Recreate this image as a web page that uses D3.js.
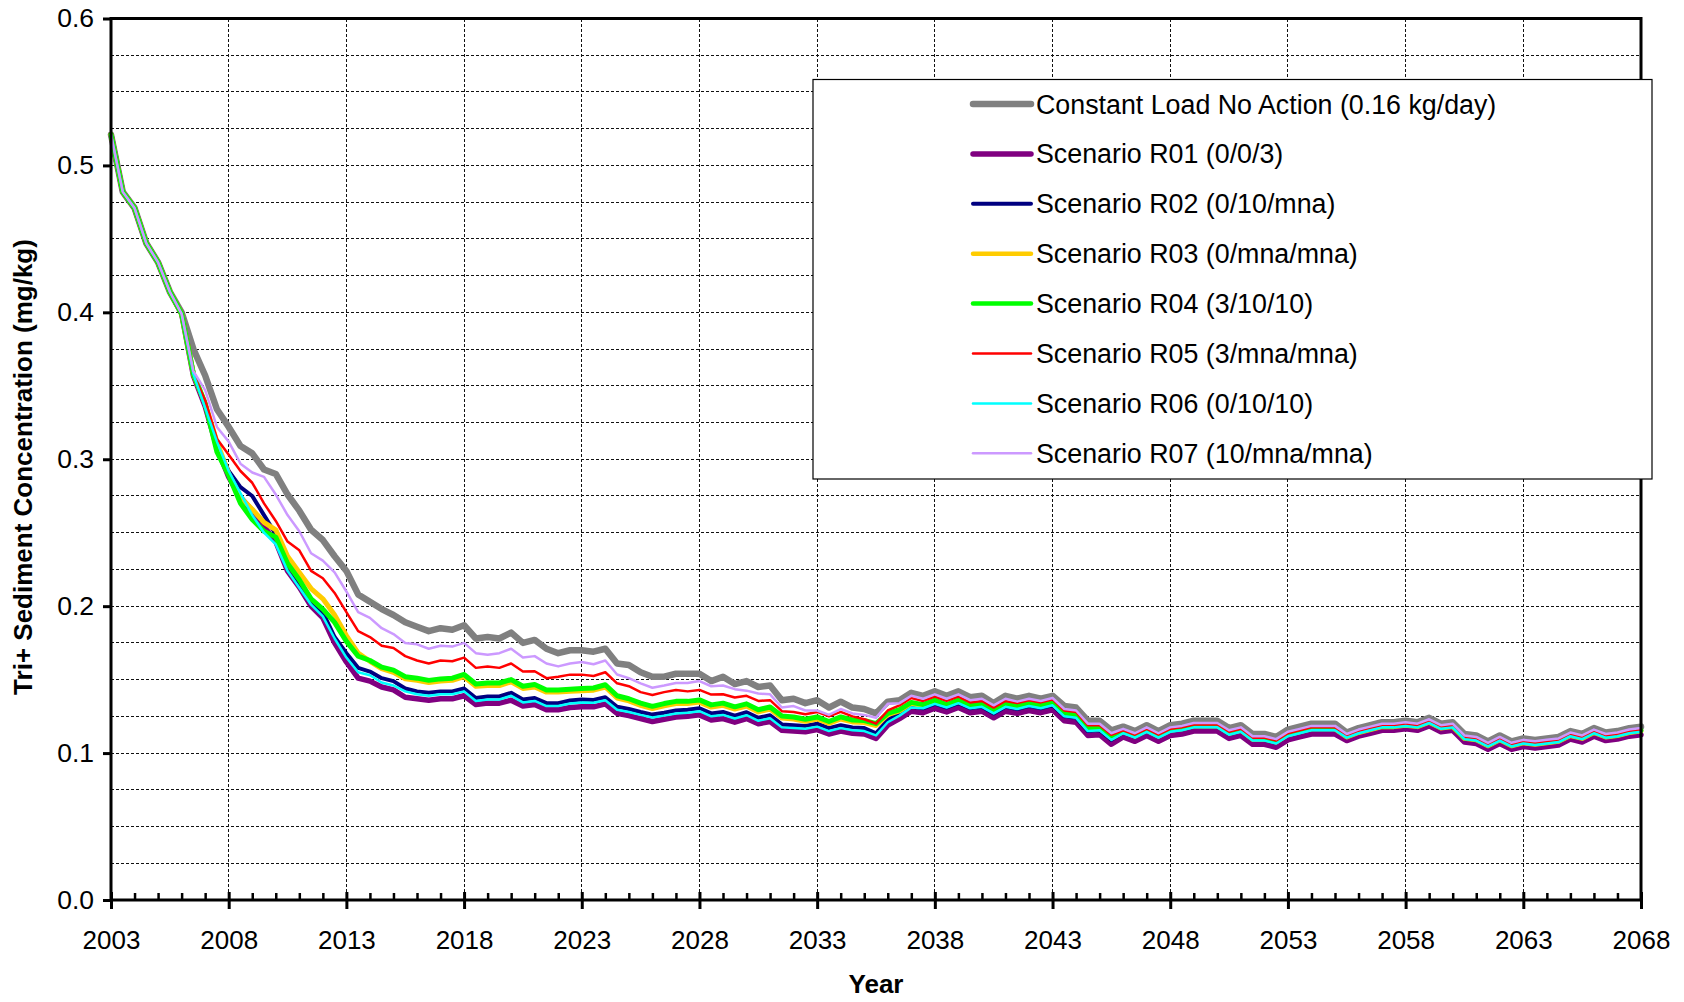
<!DOCTYPE html>
<html>
<head>
<meta charset="utf-8">
<script src="https://cdn.jsdelivr.net/npm/d3@7"></script>
<style>
  html, body { margin: 0; padding: 0; background: #fff; }
  svg { display: block; font-family: "Liberation Sans", Arial, sans-serif; }
</style>
</head>
<body>
<svg id="chart" width="1684" height="1002"></svg>
<script>
// Half-year sampling grid, 2003.0 to 2068.0
const years = d3.range(0, 131).map(i => 2003 + i * 0.5);

// Tri+ sediment concentration (mg/kg), one value per half year
const constantLoad = [
  0.521,0.482,0.471,0.447,0.434,0.414,0.400,0.375,0.357,0.334,
  0.322,0.309,0.304,0.293,0.290,0.276,0.265,0.252,0.245,0.234,
  0.224,0.208,0.203,0.198,0.194,0.189,0.186,0.183,0.185,0.184,
  0.187,0.178,0.179,0.178,0.182,0.175,0.177,0.171,0.168,0.170,
  0.170,0.169,0.171,0.161,0.160,0.155,0.152,0.152,0.154,0.154,
  0.154,0.149,0.152,0.147,0.149,0.145,0.146,0.136,0.137,0.134,
  0.136,0.131,0.135,0.131,0.130,0.127,0.135,0.136,0.141,0.139,
  0.142,0.139,0.142,0.138,0.139,0.134,0.139,0.137,0.139,0.137,
  0.139,0.132,0.131,0.122,0.122,0.1155,0.118,0.115,0.119,0.115,
  0.119,0.120,0.122,0.122,0.122,0.117,0.119,0.113,0.113,0.111,
  0.116,0.118,0.120,0.120,0.120,0.114,0.117,0.119,0.121,0.121,
  0.122,0.121,0.124,0.120,0.121,0.113,0.112,0.108,0.112,0.108,
  0.110,0.109,0.110,0.111,0.115,0.113,0.117,0.114,0.115,0.117,
  0.118
];
const scenarioR01 = [
  0.521,0.482,0.471,0.447,0.434,0.414,0.399,0.357,0.336,0.308,
  0.288,0.274,0.265,0.254,0.244,0.224,0.213,0.200,0.192,0.175,
  0.162,0.151,0.149,0.145,0.143,0.138,0.137,0.136,0.137,0.137,
  0.139,0.133,0.134,0.134,0.136,0.132,0.133,0.1295,0.1295,0.131,
  0.1315,0.1315,0.1335,0.127,0.1255,0.1235,0.1215,0.123,0.1245,0.125,
  0.126,0.1225,0.1235,0.121,0.1235,0.120,0.1215,0.1155,0.115,0.1145,
  0.116,0.113,0.115,0.1135,0.113,0.110,0.119,0.1235,0.1285,0.1275,
  0.1305,0.128,0.131,0.1275,0.1285,0.124,0.1285,0.127,0.129,0.1275,
  0.1295,0.122,0.121,0.112,0.1125,0.106,0.111,0.108,0.112,0.108,
  0.112,0.113,0.115,0.115,0.115,0.110,0.112,0.106,0.106,0.104,
  0.109,0.111,0.113,0.113,0.113,0.1085,0.1115,0.1135,0.1155,0.1155,
  0.1165,0.1155,0.1185,0.1145,0.1155,0.1075,0.1065,0.1025,0.1065,0.1025,
  0.1045,0.1035,0.1045,0.1055,0.1095,0.1075,0.1115,0.1085,0.1095,0.1115,
  0.1125
];
const scenarioR02 = [
  0.521,0.482,0.471,0.447,0.434,0.414,0.399,0.358,0.338,0.310,
  0.292,0.281,0.275,0.262,0.249,0.229,0.216,0.204,0.196,0.179,
  0.168,0.158,0.1555,0.151,0.149,0.144,0.142,0.141,0.142,0.142,
  0.144,0.1375,0.1385,0.1385,0.141,0.1365,0.1375,0.134,0.134,0.1358,
  0.1364,0.1362,0.138,0.1315,0.130,0.128,0.1262,0.1275,0.129,0.1295,
  0.1305,0.127,0.128,0.1255,0.1278,0.124,0.1257,0.1195,0.119,0.1185,
  0.120,0.117,0.119,0.1175,0.117,0.1135,0.1225,0.127,0.1315,0.1305,
  0.1335,0.131,0.134,0.1305,0.1315,0.127,0.1315,0.130,0.132,0.1305,
  0.1325,0.125,0.124,0.115,0.1155,0.109,0.114,0.111,0.115,0.111,
  0.115,0.116,0.118,0.118,0.118,0.113,0.115,0.109,0.109,0.107,
  0.112,0.114,0.116,0.116,0.116,0.111,0.114,0.116,0.118,0.118,
  0.119,0.118,0.121,0.117,0.118,0.110,0.109,0.105,0.109,0.105,
  0.107,0.106,0.107,0.108,0.112,0.110,0.114,0.111,0.112,0.114,
  0.115
];
const scenarioR03 = [
  0.521,0.482,0.471,0.447,0.434,0.414,0.399,0.358,0.338,0.312,
  0.290,0.274,0.266,0.257,0.252,0.234,0.223,0.212,0.205,0.194,
  0.180,0.168,0.1625,0.1575,0.155,0.1505,0.1495,0.148,0.149,0.1495,
  0.152,0.1455,0.146,0.146,0.1485,0.144,0.145,0.1415,0.1415,0.142,
  0.1425,0.1428,0.145,0.1375,0.1355,0.1325,0.1303,0.1322,0.1337,0.1337,
  0.1347,0.1313,0.1325,0.130,0.132,0.128,0.130,0.1238,0.1232,0.1216,
  0.1232,0.1202,0.1232,0.1212,0.1208,0.1188,0.1262,0.1288,0.1338,0.1322,
  0.1352,0.1322,0.1352,0.1318,0.1328,0.1283,0.1328,0.1313,0.1333,0.1318,
  0.1338,0.1263,0.1253,0.1163,0.1168,0.1103,0.1145,0.1115,0.1155,0.1115,
  0.1155,0.1165,0.1185,0.1185,0.1185,0.1135,0.1155,0.1095,0.1095,0.1075,
  0.1125,0.1145,0.1165,0.1165,0.1165,0.111,0.114,0.116,0.118,0.118,
  0.119,0.118,0.121,0.117,0.118,0.110,0.109,0.105,0.109,0.105,
  0.107,0.106,0.107,0.108,0.112,0.110,0.114,0.111,0.112,0.114,
  0.115
];
const scenarioR04 = [
  0.521,0.482,0.471,0.447,0.434,0.414,0.399,0.358,0.338,0.305,
  0.289,0.270,0.259,0.251,0.247,0.229,0.218,0.205,0.198,0.189,
  0.176,0.166,0.163,0.1585,0.1565,0.152,0.151,0.1495,0.1505,0.151,
  0.1535,0.147,0.1477,0.1477,0.150,0.1455,0.1467,0.143,0.143,0.1435,
  0.144,0.1443,0.1465,0.139,0.137,0.134,0.1318,0.1337,0.1352,0.1352,
  0.1362,0.1328,0.134,0.1315,0.1335,0.1295,0.1314,0.1252,0.1246,0.123,
  0.1246,0.1215,0.1246,0.1225,0.1222,0.120,0.127,0.1295,0.1345,0.133,
  0.136,0.133,0.136,0.1325,0.1335,0.129,0.1335,0.132,0.134,0.1325,
  0.1345,0.127,0.126,0.117,0.1175,0.111,0.115,0.112,0.116,0.112,
  0.116,0.117,0.119,0.119,0.119,0.114,0.116,0.110,0.110,0.108,
  0.113,0.115,0.117,0.117,0.117,0.1115,0.1145,0.1165,0.1185,0.1185,
  0.1195,0.1185,0.1215,0.1175,0.1185,0.1105,0.1095,0.1055,0.1095,0.1055,
  0.1075,0.1065,0.1075,0.1085,0.1125,0.1105,0.1145,0.1115,0.1125,0.1145,
  0.1155
];
const scenarioR05 = [
  0.521,0.482,0.471,0.447,0.434,0.414,0.399,0.358,0.340,0.314,
  0.303,0.292,0.284,0.270,0.258,0.244,0.238,0.224,0.219,0.209,
  0.196,0.183,0.179,0.173,0.1715,0.166,0.163,0.161,0.163,0.1625,
  0.165,0.158,0.159,0.158,0.161,0.1555,0.1557,0.151,0.152,0.1534,
  0.1534,0.1525,0.155,0.1475,0.1455,0.1415,0.1395,0.1415,0.143,0.142,
  0.143,0.1398,0.140,0.1378,0.139,0.1355,0.136,0.1285,0.128,0.1265,
  0.128,0.125,0.128,0.125,0.123,0.120,0.129,0.1325,0.1375,0.1355,
  0.1385,0.1355,0.1385,0.1345,0.1355,0.131,0.1355,0.134,0.136,0.1345,
  0.1365,0.129,0.128,0.119,0.119,0.1125,0.1155,0.1125,0.1165,0.1125,
  0.1165,0.1175,0.1195,0.1195,0.1195,0.1145,0.1165,0.1105,0.1105,0.1085,
  0.1135,0.1155,0.1175,0.1175,0.1175,0.112,0.115,0.117,0.119,0.119,
  0.120,0.119,0.122,0.118,0.119,0.111,0.110,0.106,0.110,0.106,
  0.108,0.107,0.108,0.109,0.113,0.111,0.115,0.112,0.113,0.115,
  0.116
];
const scenarioR06 = [
  0.521,0.482,0.471,0.447,0.434,0.414,0.399,0.358,0.335,0.312,
  0.292,0.277,0.262,0.250,0.242,0.224,0.2125,0.201,0.193,0.178,
  0.165,0.155,0.153,0.148,0.146,0.142,0.140,0.139,0.140,0.140,
  0.142,0.1355,0.1365,0.1365,0.139,0.1345,0.1355,0.132,0.132,0.1338,
  0.1344,0.1342,0.136,0.1295,0.128,0.126,0.1242,0.1255,0.127,0.1275,
  0.1285,0.125,0.126,0.1235,0.1258,0.122,0.1237,0.1175,0.117,0.1165,
  0.118,0.115,0.117,0.1155,0.115,0.112,0.121,0.1255,0.131,0.1305,
  0.1335,0.131,0.134,0.1305,0.1315,0.127,0.1315,0.130,0.132,0.1305,
  0.1325,0.125,0.124,0.115,0.1155,0.109,0.1135,0.1105,0.1145,0.1105,
  0.1145,0.1155,0.1175,0.1175,0.1175,0.1125,0.1145,0.1085,0.1085,0.1065,
  0.1115,0.1135,0.1155,0.1155,0.1155,0.1105,0.1135,0.1155,0.1175,0.1175,
  0.1185,0.1175,0.1205,0.1165,0.1175,0.1095,0.1085,0.1045,0.1085,0.1045,
  0.1065,0.1055,0.1065,0.1075,0.1115,0.1095,0.1135,0.1105,0.1115,0.1135,
  0.1145
];
const scenarioR07 = [
  0.521,0.482,0.471,0.447,0.434,0.414,0.399,0.360,0.347,0.322,
  0.312,0.297,0.291,0.288,0.276,0.262,0.251,0.236,0.231,0.223,
  0.210,0.196,0.192,0.185,0.181,0.175,0.174,0.171,0.173,0.1725,
  0.175,0.168,0.167,0.168,0.171,0.165,0.166,0.161,0.159,0.161,
  0.162,0.1605,0.163,0.1535,0.151,0.1475,0.1445,0.146,0.1477,0.1477,
  0.149,0.1455,0.146,0.1435,0.1425,0.1405,0.140,0.131,0.132,0.129,
  0.129,0.126,0.130,0.127,0.126,0.124,0.1335,0.134,0.139,0.137,
  0.140,0.137,0.140,0.136,0.137,0.1325,0.137,0.135,0.137,0.1355,
  0.1375,0.130,0.129,0.120,0.120,0.1135,0.1165,0.1135,0.1175,0.1135,
  0.1175,0.1185,0.1205,0.1205,0.1205,0.1155,0.1175,0.1115,0.1115,0.1095,
  0.1145,0.1165,0.1185,0.1185,0.1185,0.113,0.116,0.118,0.120,0.120,
  0.121,0.120,0.123,0.119,0.120,0.112,0.111,0.107,0.111,0.107,
  0.109,0.108,0.109,0.110,0.114,0.112,0.116,0.113,0.114,0.116,
  0.117
];

// Series in drawing order (later ones on top)
const seriesNames = [
  "Constant Load No Action (0.16 kg/day)",
  "Scenario R01 (0/0/3)",
  "Scenario R02 (0/10/mna)",
  "Scenario R03 (0/mna/mna)",
  "Scenario R04 (3/10/10)",
  "Scenario R05 (3/mna/mna)",
  "Scenario R06 (0/10/10)",
  "Scenario R07 (10/mna/mna)"
];
const seriesValues = [constantLoad, scenarioR01, scenarioR02, scenarioR03,
                      scenarioR04, scenarioR05, scenarioR06, scenarioR07];
const seriesColors = ["#808080", "#800080", "#000080", "#FFCC00",
                      "#00FF00", "#FF0000", "#00FFFF", "#CC99FF"];
const seriesWidths = [6.5, 5.5, 4, 5, 5, 2.5, 2.5, 2.5];
const legendWidths = [6.5, 5.5, 4, 4.5, 4.5, 2.5, 2.5, 2.5];

const yTicks = [0, 0.1, 0.2, 0.3, 0.4, 0.5, 0.6];
const yGridLines = d3.range(1, 24).map(i => i * 0.025);
const xMajorTicks = d3.range(2003, 2069, 5);
const xMinorTicks = d3.range(2003, 2069, 1).filter(v => (v - 2003) % 5 !== 0);

const svg = d3.select("#chart");
const plotLeft = 111, plotRight = 1641, plotTop = 18.5, plotBottom = 900;

const x = d3.scaleLinear().domain([2003, 2068]).range([plotLeft, plotRight]);
const y = d3.scaleLinear().domain([0, 0.6]).range([plotBottom, plotTop]);

svg.append("rect").attr("width", 1684).attr("height", 1002).attr("fill", "#fff");

// dashed grid
const grid = svg.append("g").attr("stroke", "#111").attr("stroke-width", 1)
  .attr("stroke-dasharray", "3,2").attr("shape-rendering", "crispEdges");
grid.selectAll("line.h").data(yGridLines).join("line").attr("class", "h")
  .attr("x1", plotLeft).attr("x2", plotRight)
  .attr("y1", d => y(d)).attr("y2", d => y(d));
grid.selectAll("line.v").data(xMajorTicks.slice(1, -1)).join("line").attr("class", "v")
  .attr("x1", d => x(d)).attr("x2", d => x(d))
  .attr("y1", plotTop).attr("y2", plotBottom);

// series lines
const line = d3.line().x((d, i) => x(years[i])).y(d => y(d)).curve(d3.curveLinear);
svg.append("g").selectAll("path").data(seriesValues).join("path")
  .attr("d", d => line(d))
  .attr("fill", "none")
  .attr("stroke", (d, i) => seriesColors[i])
  .attr("stroke-width", (d, i) => seriesWidths[i])
  .attr("stroke-linejoin", "round")
  .attr("stroke-linecap", "round");

// plot frame
svg.append("rect").attr("x", plotLeft).attr("y", plotTop)
  .attr("width", plotRight - plotLeft).attr("height", plotBottom - plotTop)
  .attr("fill", "none").attr("stroke", "#000").attr("stroke-width", 3);

// y axis
const yAxis = svg.append("g").attr("transform", `translate(${plotLeft},0)`)
  .call(d3.axisLeft(y).tickValues(yTicks).tickFormat(d3.format(".1f"))
    .tickSize(8).tickPadding(9));
yAxis.select(".domain").remove();
yAxis.selectAll(".tick line").attr("stroke", "#000").attr("stroke-width", 3);
yAxis.selectAll(".tick text").attr("font-size", 26.5).attr("fill", "#000")
  .attr("font-family", "Liberation Sans, Arial, sans-serif");

// x axis: minor ticks inside, major ticks crossing the axis
const xMinor = svg.append("g").attr("transform", `translate(0,${plotBottom})`)
  .call(d3.axisBottom(x).tickValues(xMinorTicks).tickSize(-7).tickFormat(""));
xMinor.select(".domain").remove();
xMinor.selectAll(".tick line").attr("stroke", "#000").attr("stroke-width", 2.5);

const xAxis = svg.append("g").attr("transform", `translate(0,${plotBottom})`)
  .call(d3.axisBottom(x).tickValues(xMajorTicks).tickFormat(d3.format("d")));
xAxis.select(".domain").remove();
xAxis.selectAll(".tick line").attr("y1", -8).attr("y2", 9)
  .attr("stroke", "#000").attr("stroke-width", 3);
xAxis.selectAll(".tick text").attr("y", 48.5).attr("dy", 0)
  .attr("font-size", 26).attr("fill", "#000")
  .attr("font-family", "Liberation Sans, Arial, sans-serif");

// axis titles
svg.append("text").attr("x", (plotLeft + plotRight) / 2).attr("y", 993)
  .attr("text-anchor", "middle").attr("font-size", 26).attr("font-weight", "bold")
  .text("Year");
svg.append("text").attr("transform", "translate(32,467) rotate(-90)")
  .attr("text-anchor", "middle").attr("font-size", 26).attr("font-weight", "bold")
  .text("Tri+ Sediment Concentration (mg/kg)");

// legend
const legend = svg.append("g");
legend.append("rect").attr("x", 813).attr("y", 79.5).attr("width", 839).attr("height", 399.5)
  .attr("fill", "#fff").attr("stroke", "#000").attr("stroke-width", 1.2);
const rows = legend.selectAll("g.row").data(seriesNames).join("g").attr("class", "row")
  .attr("transform", (d, i) => `translate(0,${104 + i * 49.9})`);
rows.append("line").attr("x1", 973).attr("x2", 1031).attr("y1", 0).attr("y2", 0)
  .attr("stroke", (d, i) => seriesColors[i])
  .attr("stroke-width", (d, i) => legendWidths[i])
  .attr("stroke-linecap", "round");
rows.append("text").attr("x", 1036).attr("y", 9.5).attr("font-size", 26.8)
  .attr("fill", "#000").text(d => d);
</script>
</body>
</html>
